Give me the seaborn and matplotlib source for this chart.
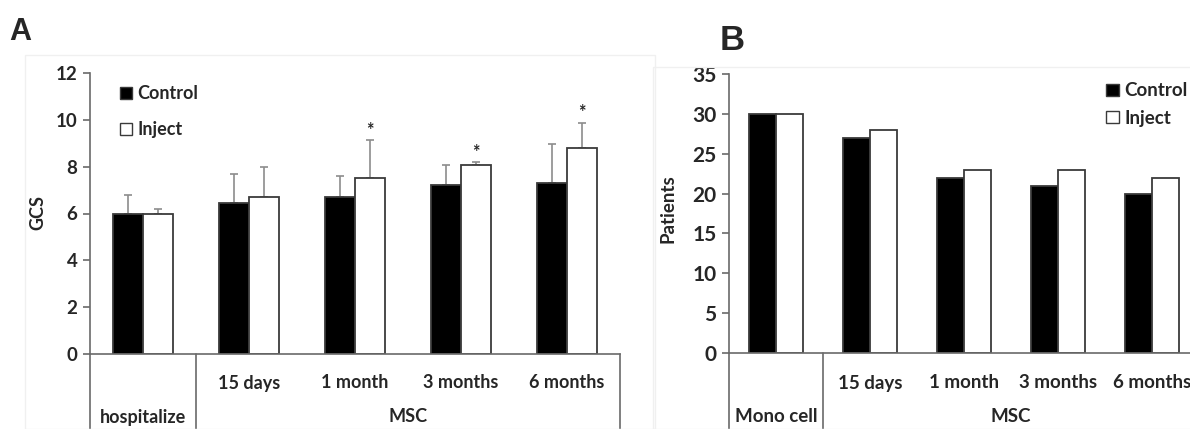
import matplotlib
matplotlib.use('Agg')
import numpy as np
import pandas as pd
import matplotlib.pyplot as plt
import seaborn as sns
from matplotlib.transforms import blended_transform_factory
from matplotlib.patches import Rectangle

# Datos del panel A (GCS, media y desviación superior)
gcs_times = ['hospitalize', '15 days', '1 month', '3 months', '6 months']
gcs_control = [6.0, 6.45, 6.7, 7.2, 7.3]
gcs_control_sd = [0.8, 1.25, 0.9, 0.85, 1.65]
gcs_inject = [6.0, 6.72, 7.5, 8.07, 8.78]
gcs_inject_sd = [0.2, 1.28, 1.65, 0.13, 1.1]
gcs_sig = ['', '', '*', '*', '*']
gcs_groups = ['hospitalize', 'MSC']

# Datos del panel B (número de pacientes)
pat_times = ['Mono cell', '15 days', '1 month', '3 months', '6 months']
pat_control = [30, 27, 22, 21, 20]
pat_inject = [30, 28, 23, 23, 22]
pat_groups = ['Mono cell', 'MSC']

series = ['Control', 'Inject']

sns.set_style('white')
plt.rcParams['font.family'] = ['Lato', 'DejaVu Sans']
plt.rcParams['font.weight'] = 'bold'

W, H = 1190, 429
fig = plt.figure(figsize=(W / 100, H / 100), dpi=100)

def px_axes(l, t, r, b):
    return fig.add_axes([l / W, 1 - b / H, (r - l) / W, (b - t) / H])

def fy(px):
    return 1 - px / H

axA = px_axes(90, 73, 620, 354)
axB = px_axes(729, 74, 1199, 353)

spine_col = '#6a6a6a'
edge_col = '#3a3a3a'

def draw_bars(ax, times, control, inject, fs, ylim, yticks):
    df = pd.DataFrame({
        'time': times * 2,
        'value': control + inject,
        'group': [series[0]] * len(times) + [series[1]] * len(times),
    })
    sns.barplot(data=df, x='time', y='value', hue='group', order=times,
                hue_order=series, palette=['black', 'white'], width=0.57,
                gap=0, edgecolor=edge_col, linewidth=1.3, ax=ax, legend=True)
    ax.set_ylim(*ylim)
    ax.set_yticks(yticks)
    ax.set_xlim(-0.5, len(times) - 0.5)
    ax.set_xlabel('')
    ax.set_ylabel('')
    ax.set_xticks([])
    for s in ['top', 'right']:
        ax.spines[s].set_visible(False)
    for s in ['left', 'bottom']:
        ax.spines[s].set_color(spine_col)
        ax.spines[s].set_linewidth(1.2)
    ax.tick_params(axis='y', left=True, length=5, width=1.2, color=spine_col,
                   labelsize=fs, pad=4)
    for lab in ax.get_yticklabels():
        lab.set_fontweight('bold')
    ax.get_legend().remove()

def category_axis(ax, times, groups, fs, row1, row2, bottom_px):
    tr = blended_transform_factory(ax.transData, fig.transFigure)
    n = len(times)
    # líneas verticales de la tabla de categorías
    for x in [-0.5, 0.5, n - 0.5]:
        ax.plot([x, x], [fy(bottom_px), 0], transform=tr, color=spine_col,
                lw=1.2, clip_on=False)
    for i in range(1, n):
        ax.text(i, fy(row1), times[i], transform=tr, ha='center', va='center',
                fontsize=fs, fontweight='bold')
    ax.text(0, fy(row2), groups[0], transform=tr, ha='center', va='center',
            fontsize=fs, fontweight='bold')
    ax.text(n / 2, fy(row2), groups[1], transform=tr, ha='center',
            va='center', fontsize=fs, fontweight='bold')

def make_legend(ax, x_px, y_px, fs, spacing):
    h = [Rectangle((0, 0), 1, 1, facecolor='black', edgecolor=edge_col, lw=1),
         Rectangle((0, 0), 1, 1, facecolor='white', edgecolor=edge_col, lw=1)]
    leg = ax.legend(h, series, loc='upper left', bbox_to_anchor=(x_px / W, fy(y_px)),
                    bbox_transform=fig.transFigure, frameon=False, borderpad=0,
                    handlelength=0.65, handleheight=0.65, handletextpad=0.3,
                    labelspacing=spacing, prop={'size': fs, 'weight': 'bold'})
    return leg

# Panel A
draw_bars(axA, gcs_times, gcs_control, gcs_inject, 13.5, (0, 12), range(0, 13, 2))
ctrl_bars, inj_bars = axA.containers[0], axA.containers[1]
xc = [b.get_x() + b.get_width() / 2 for b in ctrl_bars]
xi = [b.get_x() + b.get_width() / 2 for b in inj_bars]
axA.errorbar(xc, gcs_control, yerr=[np.zeros(len(xc)), gcs_control_sd], fmt='none',
             ecolor='#8c8c8c', elinewidth=1.2, capsize=3, capthick=1.2, zorder=0.5)
axA.errorbar(xi, gcs_inject, yerr=[np.zeros(len(xi)), gcs_inject_sd], fmt='none',
             ecolor='#8c8c8c', elinewidth=1.2, capsize=3, capthick=1.2, zorder=0.5)
for x, v, sd, s in zip(xi, gcs_inject, gcs_inject_sd, gcs_sig):
    if s:
        axA.text(x, v + sd + 0.05, s, ha='center', va='bottom', fontsize=13,
                 fontweight='bold')
category_axis(axA, gcs_times, gcs_groups, 13, 383, 417, 354)
make_legend(axA, 111, 76, 13, 1.05)
fig.text(38 / W, fy(213), 'GCS', rotation=90, ha='center', va='center',
         fontsize=13, fontweight='bold')
fig.text(9 / W, fy(32), 'A', ha='left', va='center', fontsize=22,
         fontweight='bold', family='Liberation Sans')

# Panel B
draw_bars(axB, pat_times, pat_control, pat_inject, 15, (0, 35), range(0, 36, 5))
category_axis(axB, pat_times, pat_groups, 13.5, 383, 417, 353)
make_legend(axB, 1097, 73, 13.5, 0.55)
fig.text(668 / W, fy(209), 'Patients', rotation=90, ha='center', va='center',
         fontsize=13.5, fontweight='bold')
fig.text(720 / W, fy(40), 'B', ha='left', va='center', fontsize=25,
         fontweight='bold', family='Liberation Sans')

# marcos tenues de los paneles
fig.patches.append(Rectangle((25 / W, 0), 630 / W, fy(55), transform=fig.transFigure,
                             fill=False, edgecolor='#f0f0f0', lw=1))
fig.patches.append(Rectangle((653 / W, 0), 600 / W, fy(67), transform=fig.transFigure,
                             fill=False, edgecolor='#f0f0f0', lw=1))

fig.savefig('out.png', dpi=100, facecolor='white')
